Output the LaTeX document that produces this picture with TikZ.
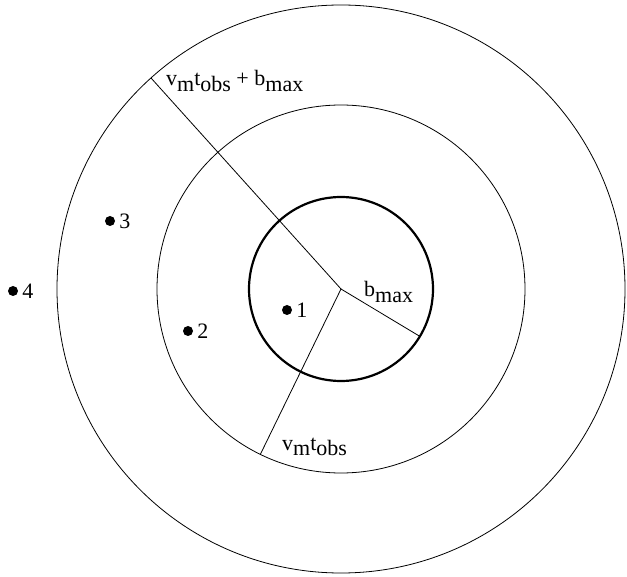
\documentclass[tikz,border=0pt]{standalone}
\usepackage{fontspec}
\setmainfont{Liberation Serif}
\usetikzlibrary{positioning,calc}
\newcommand{\lo}[1]{\raisebox{-0.55ex}{#1}}
\tikzset{
  ring/.style={line width=0.8pt},
  core/.style={line width=2.2pt},
  pt/.style={circle,fill,inner sep=0pt,minimum size=10pt,
    label={[lbl,label distance=4pt]right:#1}},
  lbl/.style={font=\fontsize{22}{26}\selectfont,inner sep=0pt}
}
\begin{document}
\begin{tikzpicture}[x=1pt,y=-1pt]
\useasboundingbox (0,0) rectangle (627,577);
\coordinate (c) at (341,289);
\draw[ring] (c) circle[radius=284pt];
\draw[ring] (c) circle[radius=184pt];
\draw[core] (c) circle[radius=92pt];
% radii
\coordinate (rout) at ($(c)+(132:284pt)$);
\coordinate (rmid) at ($(c)+(-116:184pt)$);
\coordinate (rin) at ($(c)+(-31:92pt)$);
\draw[ring] (c) -- (rout);
\draw[ring] (c) -- (rmid);
\draw[ring] (c) -- (rin);
\node[lbl,anchor=base west] (lout) at (166,86) {v\lo{m}t\lo{obs} + b\lo{max}};
\node[lbl,anchor=base west] (lmid) at (282,450) {v\lo{m}t\lo{obs}};
\node[lbl,anchor=base west] (lin) at (364,297) {b\lo{max}};
% events
\node[pt=1] (p1) at (287,310) {};
\node[pt=2] (p2) at (188,331) {};
\node[pt=3] (p3) at (110,221) {};
\node[pt=4] (p4) at (13,291) {};
\end{tikzpicture}
\end{document}
